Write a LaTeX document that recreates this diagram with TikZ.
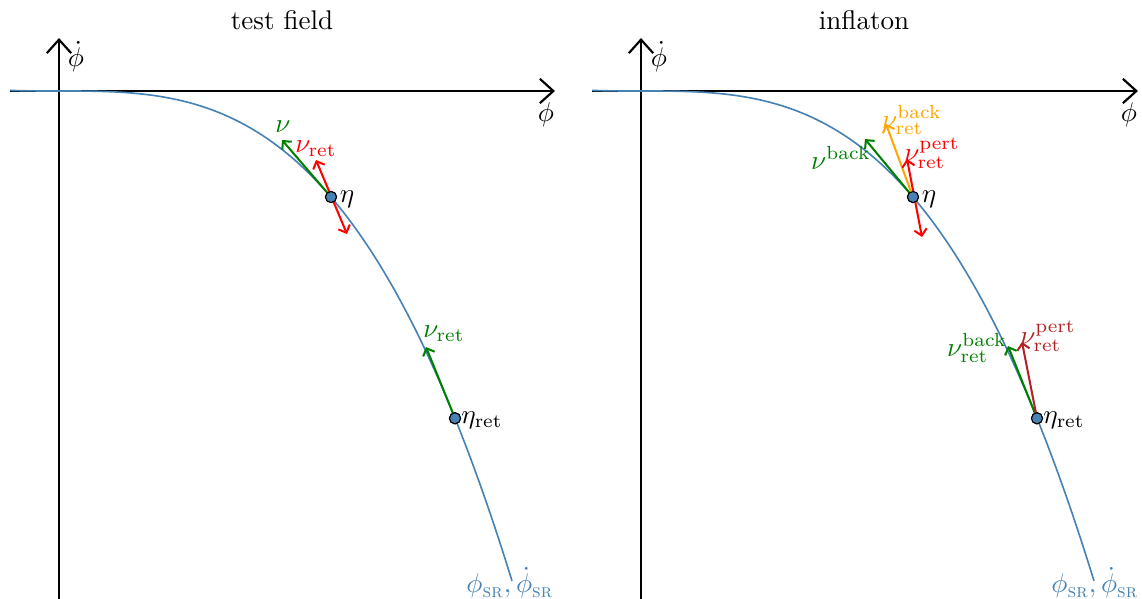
\documentclass[tikz,border=0pt]{standalone}
\usepackage{amsmath}
\usetikzlibrary{arrows.meta}
\definecolor{sblue}{RGB}{70,130,180}
\definecolor{dgreen}{RGB}{0,128,0}
\definecolor{orng}{RGB}{255,165,0}
\definecolor{brwn}{RGB}{178,34,34}
\begin{document}
\begin{tikzpicture}[x=0.37pt,y=-0.37pt,
  axis/.style={line width=0.8pt,-{Straight Barb[length=5pt,width=9pt]}},
  vec/.style={line width=0.75pt,-{Straight Barb[length=2.3pt,width=4.6pt]}},
  dvec/.style={line width=0.75pt,{Straight Barb[length=2.3pt,width=4.6pt]}-{Straight Barb[length=2.3pt,width=4.6pt]}},
  curve/.style={sblue,line width=0.6pt},
  pt/.style={circle,fill=sblue,draw=black,line width=0.4pt,inner sep=0pt,minimum size=4.1pt},
  lbl/.style={inner sep=1pt}]
\useasboundingbox (0,0) rectangle (1142,599);
% ---------- left panel ----------
\node (t1) at (282,20) {test field};
\coordinate (xs1) at (10,91); \coordinate (xe1) at (555,91);
\coordinate (ys1) at (59,599); \coordinate (ye1) at (59,38);
\draw[axis] (xs1) -- (xe1);
\draw[axis] (ys1) -- (ye1);
\node (ax1) at (546,115) {$\phi$};
\node (ay1) at (76,57) {$\dot\phi$};
\draw[curve] plot[domain=10:512,samples=120,smooth] (\x,{91+5.27*((\x-59)/100)^3});
\node[pt] (e1) at (331,197) {};
\node[pt] (r1) at (455,418.3) {};
\coordinate (g1) at (282,140);
\coordinate (ra1) at (316,160);
\coordinate (rb1) at (347,234);
\coordinate (g2) at (426,347);
\draw[vec,dgreen] (e1.center) -- (g1);
\draw[dvec,red] (rb1) -- (ra1);
\draw[vec,dgreen] (r1.center) -- (g2);
\node[pt] at (e1) {};
\node[pt] at (r1) {};
\node[lbl,dgreen] (l1) at (283,127) {$\nu$};
\node[lbl,red] (l2) at (316,149) {$\nu_{\rm ret}$};
\node[lbl] (l3) at (347,199) {$\eta$};
\node[lbl,dgreen] (l4) at (444,334) {$\nu_{\rm ret}$};
\node[lbl] (l5) at (482,420) {$\eta_{\rm ret}$};
\node[lbl,sblue] (l6) at (510,583) {$\phi_{\text{\textsc{sr}}},\dot\phi_{\text{\textsc{sr}}}$};
% ---------- right panel ----------
\node (t2) at (864,20) {inflaton};
\coordinate (xs2) at (592,91); \coordinate (xe2) at (1138,91);
\coordinate (ys2) at (641,599); \coordinate (ye2) at (641,38);
\draw[axis] (xs2) -- (xe2);
\draw[axis] (ys2) -- (ye2);
\node (ax2) at (1129,115) {$\phi$};
\node (ay2) at (659,57) {$\dot\phi$};
\draw[curve] plot[domain=592:1094,samples=120,smooth] (\x,{91+5.27*((\x-641)/100)^3});
\node[pt] (e2) at (913,197) {};
\node[pt] (r2) at (1037,418.3) {};
\coordinate (h1) at (865,139);
\coordinate (o1) at (886,124);
\coordinate (rc1) at (907,159);
\coordinate (rd1) at (922,237);
\coordinate (h2) at (1008,346);
\coordinate (b2) at (1022,342);
\draw[vec,dgreen] (e2.center) -- (h1);
\draw[vec,orng] (e2.center) -- (o1);
\draw[dvec,red] (rd1) -- (rc1);
\draw[vec,dgreen] (r2.center) -- (h2);
\draw[vec,brwn] (r2.center) -- (b2);
\node[pt] at (e2) {};
\node[pt] at (r2) {};
\node[lbl,dgreen] (m1) at (841,158) {$\nu^{\rm back}$};
\node[lbl,orng] (m2) at (912,120) {$\nu^{\rm back}_{\rm ret}$};
\node[lbl,red] (m3) at (932,153) {$\nu^{\rm pert}_{\rm ret}$};
\node[lbl] (m4) at (929,199) {$\eta$};
\node[lbl,dgreen] (m5) at (977,348) {$\nu^{\rm back}_{\rm ret}$};
\node[lbl,brwn] (m6) at (1048,336) {$\nu^{\rm pert}_{\rm ret}$};
\node[lbl] (m7) at (1064,420) {$\eta_{\rm ret}$};
\node[lbl,sblue] (m8) at (1095,583) {$\phi_{\text{\textsc{sr}}},\dot\phi_{\text{\textsc{sr}}}$};
\end{tikzpicture}
\end{document}
